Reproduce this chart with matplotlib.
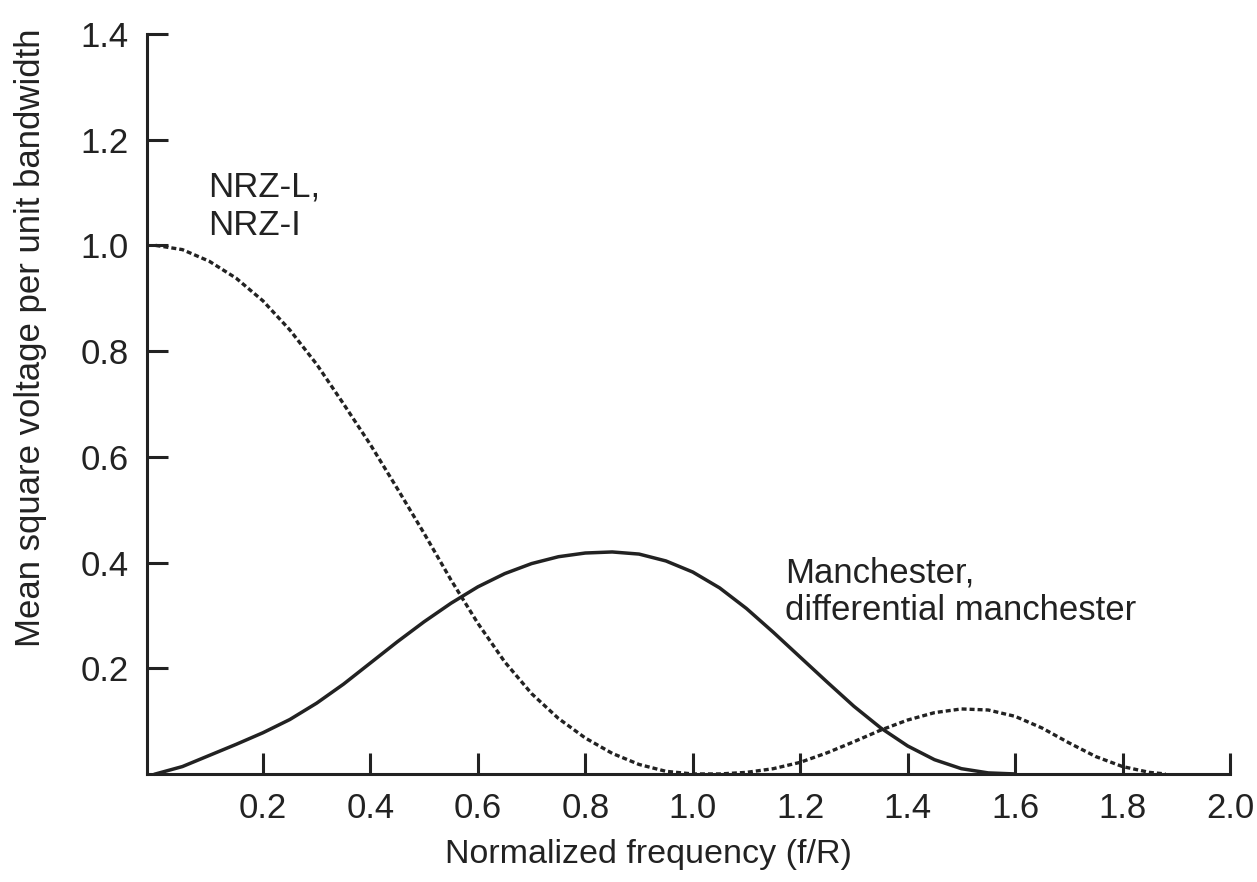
import matplotlib
matplotlib.use("Agg")
import matplotlib.pyplot as plt
import numpy as np

# valores
freq = [0.00, 0.05, 0.10, 0.15, 0.20, 0.25, 0.30, 0.35, 0.40, 0.45, 0.50,
        0.55, 0.60, 0.65, 0.70, 0.75, 0.80, 0.85, 0.90, 0.95, 1.00, 1.05,
        1.10, 1.15, 1.20, 1.25, 1.30, 1.35, 1.40, 1.45, 1.50, 1.55, 1.60,
        1.65, 1.70, 1.75, 1.80, 1.85, 1.88]
nrz = [1.000, 0.992, 0.970, 0.938, 0.895, 0.840, 0.775, 0.700, 0.623, 0.540,
       0.455, 0.367, 0.285, 0.212, 0.152, 0.105, 0.068, 0.039, 0.018, 0.005,
       0.000, 0.000, 0.003, 0.010, 0.022, 0.040, 0.061, 0.083, 0.102, 0.116,
       0.123, 0.121, 0.109, 0.087, 0.059, 0.033, 0.014, 0.003, 0.000]

freq_m = [0.00, 0.05, 0.10, 0.15, 0.20, 0.25, 0.30, 0.35, 0.40, 0.45, 0.50,
          0.55, 0.60, 0.65, 0.70, 0.75, 0.80, 0.85, 0.90, 0.95, 1.00, 1.05,
          1.10, 1.15, 1.20, 1.25, 1.30, 1.35, 1.40, 1.45, 1.50, 1.55, 1.60]
manchester = [0.000, 0.014, 0.035, 0.056, 0.078, 0.103, 0.134, 0.170, 0.210,
              0.250, 0.288, 0.323, 0.354, 0.379, 0.398, 0.411, 0.418, 0.420,
              0.416, 0.403, 0.382, 0.352, 0.313, 0.268, 0.221, 0.174, 0.128,
              0.087, 0.053, 0.027, 0.010, 0.002, 0.000]

xticks = [0.2, 0.4, 0.6, 0.8, 1.0, 1.2, 1.4, 1.6, 1.8, 2.0]
xlabels = ["0.2", "0.4", "0.6", "0.8", "1.0", "1.2", "1.4", "1.6", "1.8", "2.0"]
yticks = [0.2, 0.4, 0.6, 0.8, 1.0, 1.2, 1.4]
ylabels = ["0.2", "0.4", "0.6", "0.8", "1.0", "1.2", "1.4"]

ink = "#222222"
plt.rcParams['font.family'] = ['Liberation Sans', 'DejaVu Sans']

fig = plt.figure(figsize=(12.57, 8.82), dpi=100)
ax = fig.add_axes([0.1169, 0.1225, 0.8616, 0.839])

ax.plot(freq, nrz, color=ink, lw=2.4, ls=(0, (1.5, 0.9)), clip_on=False)
ax.plot(freq_m, manchester, color=ink, lw=2.5, clip_on=False)

ax.set_xlim(-0.016, 2.0)
ax.set_ylim(0, 1.4)
ax.spines['top'].set_visible(False)
ax.spines['right'].set_visible(False)
for s in ['left', 'bottom']:
    ax.spines[s].set_linewidth(2.2)
    ax.spines[s].set_color(ink)

ax.set_xticks(xticks)
ax.set_xticklabels(xlabels)
ax.set_yticks(yticks)
ax.set_yticklabels(ylabels)
ax.tick_params(direction='in', length=15, width=2.2, color=ink,
               labelsize=25, labelcolor=ink, pad=13)

ax.set_xlabel("Normalized frequency (f/R)", fontsize=24.5, color=ink)
ax.xaxis.set_label_coords(0.4626, -0.088)
ax.set_ylabel("Mean square voltage per unit bandwidth", fontsize=25, color=ink)
ax.yaxis.set_label_coords(-0.092, 0.589)

ax.text(0.098, 1.142, "NRZ-L,\nNRZ-I", fontsize=25, color=ink,
        va='top', ha='left', linespacing=1.2)
ax.text(1.172, 0.412, "Manchester,\ndifferential manchester", fontsize=25,
        color=ink, va='top', ha='left', linespacing=1.2)

plt.savefig("out.png", dpi=100)
